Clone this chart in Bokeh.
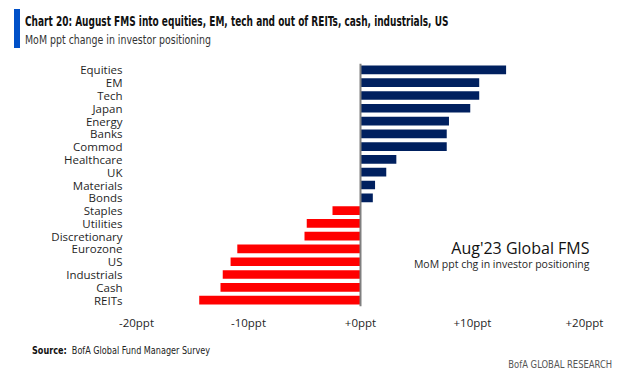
from bokeh.plotting import figure
from bokeh.models import FactorRange, Range1d, Span, Label, FixedTicker, ColumnDataSource, Div
from bokeh.layouts import column
from bokeh.embed import file_html
from bokeh.resources import INLINE

categories = ["Equities", "EM", "Tech", "Japan", "Energy", "Banks", "Commod", "Healthcare",
              "UK", "Materials", "Bonds", "Staples", "Utilities", "Discretionary", "Eurozone",
              "US", "Industrials", "Cash", "REITs"]
values = [13.0, 10.6, 10.6, 9.8, 7.9, 7.7, 7.7, 3.2, 2.3, 1.3, 1.1,
          -2.5, -4.8, -5.0, -11.0, -11.6, -12.3, -12.5, -14.4]
tick_values = [-20, -10, 0, 10, 20]
tick_labels = ["-20ppt", "-10ppt", "+0ppt", "+10ppt", "+20ppt"]

title_text = "Chart 20: August FMS into equities, EM, tech and out of REITs, cash, industrials, US"
subtitle_text = "MoM ppt change in investor positioning"
inset_title = "Aug'23 Global FMS"
inset_sub = "MoM ppt chg in investor positioning"
source_label = "Source:"
source_text = "BofA Global Fund Manager Survey"
brand_text = "BofA GLOBAL RESEARCH"

NAVY = "#00205f"
RED = "#ff0000"
colors = [NAVY if v >= 0 else RED for v in values]

src = ColumnDataSource(dict(cat=categories, val=values, color=colors))

FONT = "Open Sans"
NARROW = "'DejaVu Sans Condensed', 'DejaVu Sans', sans-serif"

W = 618
p = figure(width=W, height=283, output_backend="svg", toolbar_location=None,
           y_range=FactorRange(factors=list(reversed(categories))),
           x_range=Range1d(-20, 20.536),
           min_border_left=136, min_border_right=28, min_border_top=8, min_border_bottom=32)
p.outline_line_color = None
p.xgrid.visible = False
p.ygrid.visible = False

p.hbar(y="cat", left=0, right="val", height=0.68, color="color", line_color=None, source=src)

p.add_layout(Span(location=0, dimension="height", line_color="#7f7f7f", line_width=2))

p.yaxis.axis_line_color = None
p.yaxis.major_tick_line_color = None
p.yaxis.minor_tick_line_color = None
p.yaxis.major_label_standoff = 8
p.yaxis.major_label_text_font = FONT
p.yaxis.major_label_text_font_size = "11.5px"
p.yaxis.major_label_text_color = "#1f1f1f"

p.xaxis.axis_line_color = None
p.xaxis.major_tick_line_color = None
p.xaxis.minor_tick_line_color = None
p.xaxis.ticker = FixedTicker(ticks=tick_values)
p.xaxis.major_label_overrides = {t: l for t, l in zip(tick_values, tick_labels)}
p.xaxis.major_label_standoff = 2
p.xaxis.major_label_text_font = FONT
p.xaxis.major_label_text_font_size = "11.5px"
p.xaxis.major_label_text_color = "#1f1f1f"

p.add_layout(Label(x=453, y=59, x_units="screen", y_units="screen", text=inset_title,
                   text_font=FONT, text_font_size="16px", text_color="#111111",
                   text_align="right", text_baseline="middle"))
p.add_layout(Label(x=453, y=43, x_units="screen", y_units="screen", text=inset_sub,
                   text_font=FONT, text_font_size="10.5px", text_color="#1f1f1f",
                   text_align="right", text_baseline="middle"))

header_html = f"""
<div style="position:relative;width:618px;height:55px;margin:0;padding:0;">
  <div style="position:absolute;left:14px;top:9px;width:6px;height:39px;background:#0050c8;"></div>
  <div style="position:absolute;left:25px;top:12px;white-space:nowrap;font-family:{NARROW};
              font-weight:bold;font-size:13.5px;line-height:18px;color:#111;
              transform:scaleX(0.74);transform-origin:left center;">{title_text}</div>
  <div style="position:absolute;left:25px;top:32px;white-space:nowrap;font-family:{NARROW};
              font-size:11.5px;line-height:16px;color:#333;
              transform:scaleX(0.91);transform-origin:left center;">{subtitle_text}</div>
</div>
"""
footer_html = f"""
<div style="position:relative;width:618px;height:44px;margin:0;padding:0;">
  <div style="position:absolute;left:32px;top:6px;white-space:nowrap;font-family:{NARROW};
              font-size:10px;line-height:14px;color:#222;
              transform:scaleX(0.9);transform-origin:left center;"><b style="color:#111;">{source_label}</b>&nbsp; {source_text}</div>
  <div style="position:absolute;right:6px;top:20px;white-space:nowrap;font-family:{NARROW};
              font-size:11px;line-height:14px;color:#555;
              transform:scaleX(0.85);transform-origin:right center;">{brand_text}</div>
</div>
"""
header = Div(text=header_html, width=W, height=55, margin=0)
footer = Div(text=footer_html, width=W, height=44, margin=0)

layout = column(header, p, footer, spacing=0)
open("out.html", "w").write(file_html(layout, INLINE))
